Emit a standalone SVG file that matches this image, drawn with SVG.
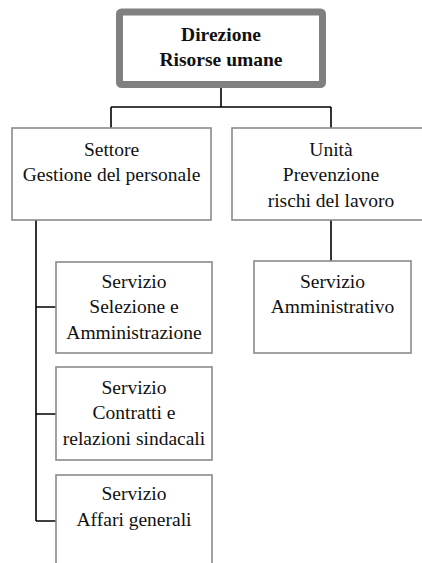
<svg xmlns="http://www.w3.org/2000/svg" width="422" height="563" viewBox="0 0 422 563">
<style>
.box{fill:#fff;stroke:#8a8a8a;stroke-width:1.6}
.top{fill:#fff;stroke:#808080;stroke-width:7}
.t{font-size:19.5px;fill:#111;text-anchor:middle}
.b{font-weight:bold}
.c{fill:none;stroke:#000;stroke-width:1.6}
</style>
<rect width="422" height="563" fill="#fff"/>
<g id="connectors">
<path class="c" d="M221 88V107M111 107H331M111 107V128M331 107V128M331 220V261M36 220V521M36 307H56M36 414H56M36 521H56"/>
</g>
<g font-family="'Liberation Serif', 'Times New Roman', 'DejaVu Serif', serif">
<g id="direzione">
<rect class="top" x="119.5" y="12" width="203" height="72.5" rx="2"/>
<text class="t b" x="221" y="41">Direzione</text>
<text class="t b" x="221" y="66">Risorse umane</text>
</g>
<g id="settore">
<rect class="box" x="12" y="128" width="199" height="92"/>
<text class="t" x="111.5" y="156">Settore</text>
<text class="t" x="111.5" y="181">Gestione del personale</text>
</g>
<g id="unita">
<rect class="box" x="232" y="128" width="199" height="92"/>
<text class="t" x="331" y="156">Unità</text>
<text class="t" x="331" y="181">Prevenzione</text>
<text class="t" x="331" y="207">rischi del lavoro</text>
</g>
<g id="servizio-selezione">
<rect class="box" x="56" y="262" width="156" height="91"/>
<text class="t" x="134" y="287.5">Servizio</text>
<text class="t" x="134" y="313">Selezione e</text>
<text class="t" x="134" y="338.5">Amministrazione</text>
</g>
<g id="servizio-contratti">
<rect class="box" x="56" y="367" width="156" height="93"/>
<text class="t" x="134" y="393.5">Servizio</text>
<text class="t" x="134" y="419">Contratti e</text>
<text class="t" x="134" y="445">relazioni sindacali</text>
</g>
<g id="servizio-affari">
<rect class="box" x="56" y="475" width="156" height="92"/>
<text class="t" x="134" y="500">Servizio</text>
<text class="t" x="134" y="525.5">Affari generali</text>
</g>
<g id="servizio-amministrativo">
<rect class="box" x="254" y="261" width="157" height="92"/>
<text class="t" x="332.5" y="287.5">Servizio</text>
<text class="t" x="332.5" y="313">Amministrativo</text>
</g>
</g>
</svg>
